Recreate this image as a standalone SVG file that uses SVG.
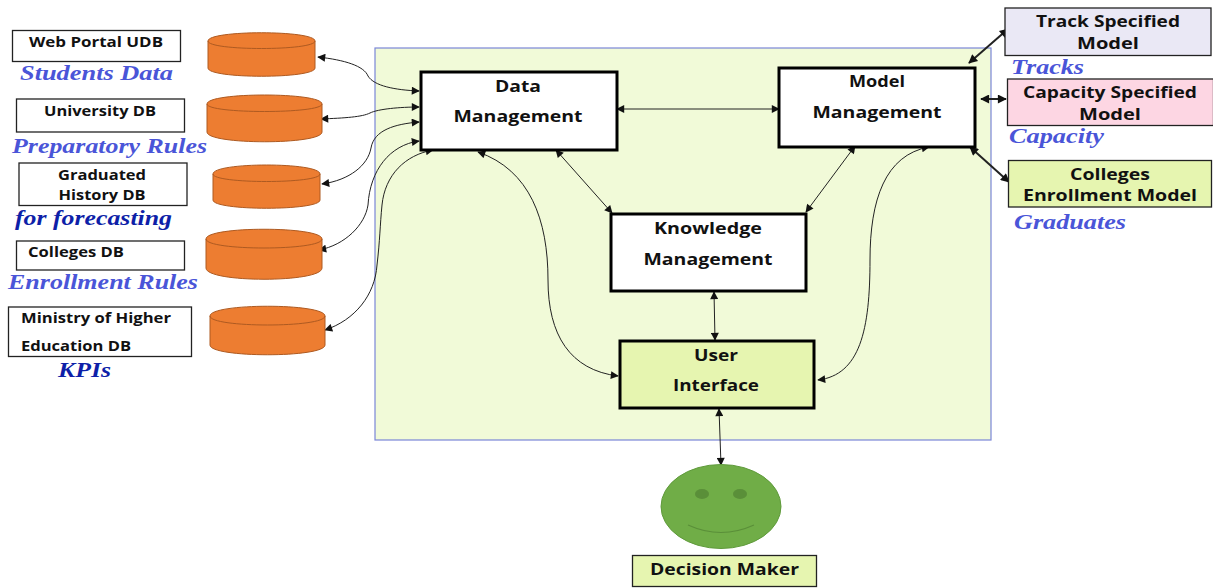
<svg xmlns="http://www.w3.org/2000/svg" width="1213" height="588" viewBox="0 0 1213 588">
<style>
text{font-family:"Open Sans","DejaVu Sans",sans-serif;font-weight:700;fill:#111;text-anchor:middle}
.s{font-size:13.5px}.m{font-size:15.5px}.b{font-size:15.5px}
.c{font-family:"Liberation Serif",serif;font-style:italic;font-size:21px;fill:#4a55d8;text-anchor:start}
.d{fill:#0e1fa8}
.box{stroke:#222;stroke-width:1.3;fill:#fff}
.main{stroke:#000;stroke-width:3;fill:#fff}
.lg{fill:#e6f5b0}
.cyl{fill:#ed7d31;stroke:#ae5a21;stroke-width:1}
.cl{fill:none;stroke:#ae5a21;stroke-width:1}
.k{fill:none;stroke:#222;stroke-width:1;marker-start:url(#a);marker-end:url(#a)}
.t{fill:none;stroke:#222;stroke-width:2;marker-start:url(#a2);marker-end:url(#a2)}
</style>
<defs>
<marker id="a" viewBox="0 0 10 10" refX="9" refY="5" markerWidth="10" markerHeight="8" orient="auto-start-reverse" markerUnits="userSpaceOnUse"><path d="M0 0L10 5L0 10z" fill="#111"/></marker>
<marker id="a2" viewBox="0 0 10 10" refX="9" refY="5" markerWidth="11" markerHeight="9" orient="auto-start-reverse" markerUnits="userSpaceOnUse"><path d="M0 0L10 5L0 10z" fill="#111"/></marker>
</defs>
<rect id="system" x="375" y="48" width="616" height="392" fill="#f1fad8" stroke="#7b86d8" stroke-width="1.2"/>
<g id="connectors">
<path class="k" d="M318 57C345 60 364 66 368 76C374 86 395 90 419 91"/>
<path class="k" d="M321 119C345 118 362 117 370 113C378 109 400 107 419 107"/>
<path class="k" d="M322 184C350 180 368 165 371 148C374 130 395 124 419 122"/>
<path class="k" d="M319 250C345 245 365 225 368 205C370 170 390 145 419 141"/>
<path class="k" d="M325 330C355 320 375 295 377 265C380 240 380 225 382 205C385 175 405 155 433 150"/>
<path class="k" d="M617 109H779"/>
<path class="k" d="M556 150L612 213"/>
<path class="k" d="M855 146L806 212"/>
<path class="k" d="M714 292L715 340"/>
<path class="k" d="M719 409L721 465"/>
<path class="k" d="M478 152C530 170 548 220 548 280C548 335 570 370 618 376"/>
<path class="k" d="M929 147C885 155 870 200 870 260C870 330 860 375 818 380"/>
<path class="t" d="M1008 29L969 63"/>
<path class="t" d="M981 99H1006"/>
<path class="t" d="M970 147L1009 182"/>
</g>
<g id="web-portal"><rect class="box" x="12.500" y="30.500" width="168" height="31"/><text class="s" x="96" y="47" textLength="134" lengthAdjust="spacingAndGlyphs">Web Portal UDB</text></g>
<text class="c" x="20" y="80" textLength="153" lengthAdjust="spacingAndGlyphs">Students Data</text>
<g id="university"><rect class="box" x="16.500" y="99" width="168" height="33"/><text class="s" x="100" y="116" textLength="112" lengthAdjust="spacingAndGlyphs">University DB</text></g>
<text class="c" x="12" y="153" textLength="195" lengthAdjust="spacingAndGlyphs">Preparatory Rules</text>
<g id="graduated"><rect class="box" x="19" y="163" width="168" height="42.500"/><text class="s" x="102" y="180" textLength="88" lengthAdjust="spacingAndGlyphs">Graduated</text><text class="s" x="102" y="200" textLength="87" lengthAdjust="spacingAndGlyphs">History DB</text></g>
<text class="c d" x="15" y="225" textLength="157" lengthAdjust="spacingAndGlyphs">for forecasting</text>
<g id="colleges"><rect class="box" x="16.500" y="241" width="168" height="29"/><text class="s" x="76" y="257" textLength="96" lengthAdjust="spacingAndGlyphs">Colleges DB</text></g>
<text class="c" x="8" y="289" textLength="190" lengthAdjust="spacingAndGlyphs">Enrollment Rules</text>
<g id="ministry"><rect class="box" x="8.500" y="307" width="183" height="49.500"/><text class="s" x="96" y="323" textLength="150" lengthAdjust="spacingAndGlyphs">Ministry of Higher</text><text class="s" x="76" y="351" textLength="110" lengthAdjust="spacingAndGlyphs">Education DB</text></g>
<text class="c d" x="58" y="377" textLength="53" lengthAdjust="spacingAndGlyphs">KPIs</text>
<g id="db1"><path class="cyl" d="M208 41C208 30 315 30 315 41V68C315 79 208 79 208 68Z"/><path class="cl" d="M208 41C208 51 315 51 315 41"/></g>
<g id="db2"><path class="cyl" d="M207 104C207 92 322 92 322 104V132C322 145 207 145 207 132Z"/><path class="cl" d="M207 104C207 114 322 114 322 104"/></g>
<g id="db3"><path class="cyl" d="M213 174C213 162 320 162 320 174V200C320 211 213 211 213 200Z"/><path class="cl" d="M213 174C213 184 320 184 320 174"/></g>
<g id="db4"><path class="cyl" d="M206 239C206 226 322 226 322 239V268C322 283 206 283 206 268Z"/><path class="cl" d="M206 239C206 251 322 251 322 239"/></g>
<g id="db5"><path class="cyl" d="M210 316C210 303 325 303 325 316V345C325 358 210 358 210 345Z"/><path class="cl" d="M210 316C210 328 325 328 325 316"/></g>
<g id="data-mgmt"><rect class="main" x="421" y="72" width="196" height="78"/><text class="m" x="518" y="92" textLength="46" lengthAdjust="spacingAndGlyphs">Data</text><text class="m" x="518" y="122" textLength="129" lengthAdjust="spacingAndGlyphs">Management</text></g>
<g id="model-mgmt"><rect class="main" x="779" y="68" width="196" height="79"/><text class="m" x="877" y="87" textLength="56" lengthAdjust="spacingAndGlyphs">Model</text><text class="m" x="877" y="118" textLength="129" lengthAdjust="spacingAndGlyphs">Management</text></g>
<g id="knowledge-mgmt"><rect class="main" x="611" y="214" width="195" height="77"/><text class="m" x="708" y="234" textLength="108" lengthAdjust="spacingAndGlyphs">Knowledge</text><text class="m" x="708" y="265" textLength="129" lengthAdjust="spacingAndGlyphs">Management</text></g>
<g id="user-interface"><rect class="main lg" x="620" y="341" width="194" height="67"/><text class="m" x="716" y="361" textLength="44" lengthAdjust="spacingAndGlyphs">User</text><text class="m" x="716" y="391" textLength="86" lengthAdjust="spacingAndGlyphs">Interface</text></g>
<g id="track"><rect class="box" x="1005" y="8" width="206" height="47.500" style="fill:#eae8f5"/><text class="b" x="1108" y="27" textLength="144" lengthAdjust="spacingAndGlyphs">Track Specified</text><text class="b" x="1108" y="49" textLength="62" lengthAdjust="spacingAndGlyphs">Model</text></g>
<text class="c" x="1011" y="74" textLength="73" lengthAdjust="spacingAndGlyphs">Tracks</text>
<g id="capacity"><rect class="box" x="1007.500" y="79" width="206" height="46.500" style="fill:#fdd6e3"/><text class="b" x="1110" y="98" textLength="174" lengthAdjust="spacingAndGlyphs">Capacity Specified</text><text class="b" x="1110" y="120" textLength="62" lengthAdjust="spacingAndGlyphs">Model</text></g>
<text class="c" x="1009" y="143" textLength="95" lengthAdjust="spacingAndGlyphs">Capacity</text>
<g id="enrollment"><rect class="box lg" x="1008.500" y="160.500" width="203" height="46.500" style="fill:#e6f5b0"/><text class="b" x="1110" y="180" textLength="80" lengthAdjust="spacingAndGlyphs">Colleges</text><text class="b" x="1110" y="201" textLength="174" lengthAdjust="spacingAndGlyphs">Enrollment Model</text></g>
<text class="c" x="1014" y="229" textLength="112" lengthAdjust="spacingAndGlyphs">Graduates</text>
<g id="face"><ellipse cx="721" cy="506.500" rx="60" ry="42" fill="#70ad47" stroke="#5f9a3b" stroke-width="1"/><ellipse cx="702" cy="494" rx="7" ry="5" fill="#5a8f39"/><ellipse cx="740" cy="494" rx="7" ry="5" fill="#5a8f39"/><path d="M688 525Q721 540 754 525" fill="none" stroke="#5a8f39" stroke-width="1.200"/></g>
<g id="decision-maker"><rect class="box" x="632.500" y="555.500" width="184" height="31" style="fill:#e6f5b0"/><text class="b" x="724.500" y="575" textLength="149" lengthAdjust="spacingAndGlyphs">Decision Maker</text></g>
</svg>
